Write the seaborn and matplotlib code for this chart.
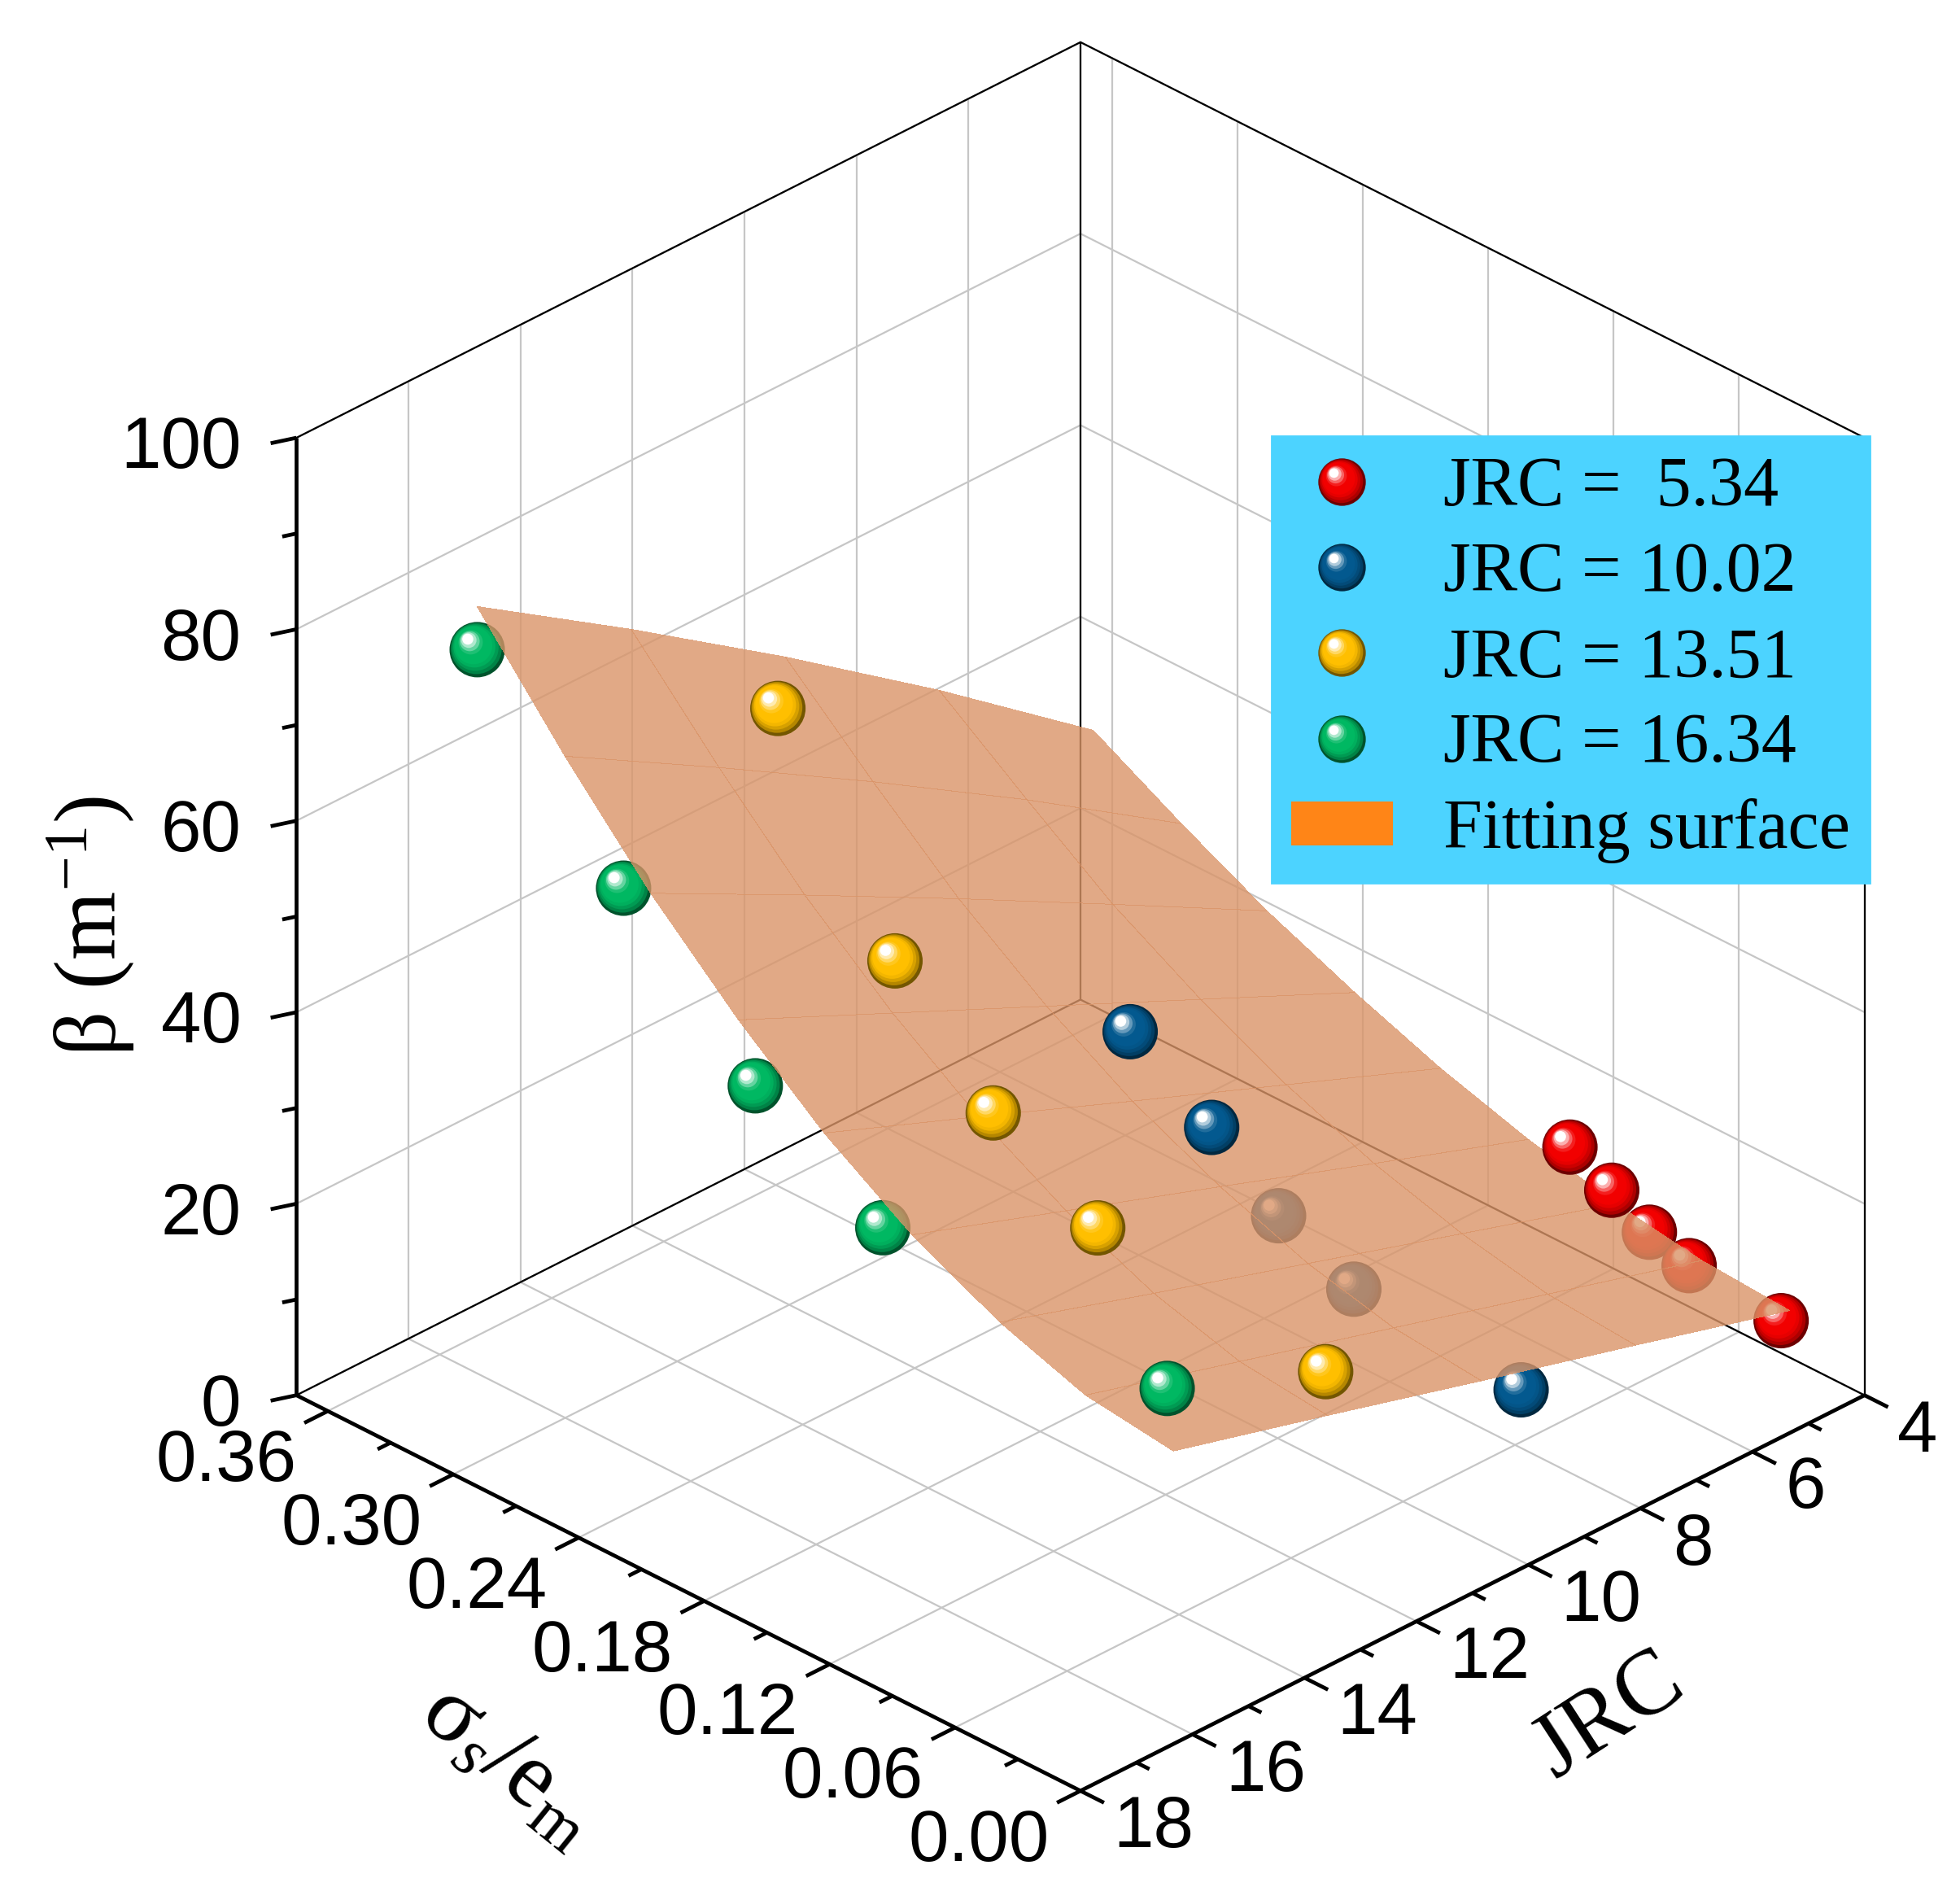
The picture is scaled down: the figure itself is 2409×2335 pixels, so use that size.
import numpy as np
import matplotlib
matplotlib.use("Agg")
import matplotlib.pyplot as plt
import seaborn as sns
from matplotlib.path import Path
from matplotlib.lines import Line2D
from matplotlib.patches import Patch
from matplotlib.colors import to_rgb
from matplotlib.legend_handler import HandlerTuple

# ---- data ----
JRC_LEVELS = [5.34, 10.02, 13.51, 16.34]
SIGMA_RED = [0.105, 0.085, 0.067, 0.048, 0.004]
BETA_RED = [18.3, 16.0, 13.6, 12.2, 11.3]
SIGMA_BLUE = [0.190, 0.151, 0.119, 0.083, 0.003]
BETA_BLUE = [34.8, 29.1, 23.4, 19.7, 18.0]
SIGMA_YELLOW = [0.265, 0.209, 0.162, 0.112, 0.003]
BETA_YELLOW = [70.6, 50.4, 39.7, 33.2, 30.2]
SIGMA_GREEN = [0.333, 0.263, 0.200, 0.139, 0.003]
BETA_GREEN = [77.6, 60.4, 46.7, 38.6, 36.8]

# fitting surface, sampled on a coarse grid
SURF_SIGMA = [0.0, 0.042, 0.083, 0.125, 0.167, 0.208, 0.250, 0.291, 0.333]
SURF_JRC = [5.34, 8.09, 10.84, 13.59, 16.34]
SURF_BETA = [
    [12.8, 13.4, 14.8, 16.9, 19.7, 23.1, 27.0, 31.6, 36.7],
    [17.3, 18.0, 19.8, 22.5, 26.1, 30.5, 35.8, 42.2, 49.0],
    [21.7, 22.6, 24.8, 28.2, 32.5, 37.9, 44.5, 52.2, 60.6],
    [26.2, 27.2, 29.8, 33.8, 39.0, 45.3, 53.0, 61.8, 71.6],
    [30.6, 31.8, 34.9, 39.4, 45.4, 52.7, 61.3, 71.1, 82.1],
]

SIGMA_TICKS = [0.0, 0.06, 0.12, 0.18, 0.24, 0.30, 0.36]
SIGMA_LABELS = ["0.00", "0.06", "0.12", "0.18", "0.24", "0.30", "0.36"]
JRC_TICKS = [4, 6, 8, 10, 12, 14, 16, 18]
BETA_TICKS = [0, 20, 40, 60, 80, 100]
LEGEND_LABELS = ["JRC =  5.34", "JRC = 10.02", "JRC = 13.51", "JRC = 16.34", "Fitting surface"]

SIG_MAX = 0.375
BALL_COLORS = ["#f20000", "#03598f", "#ffbf00", "#00b862"]

sns.set_theme(style="white")
plt.rcParams["font.family"] = ["Liberation Sans", "DejaVu Sans"]
plt.rcParams["text.color"] = "black"
plt.rcParams["mathtext.fontset"] = "custom"
plt.rcParams["mathtext.rm"] = "Liberation Serif"
plt.rcParams["mathtext.it"] = "Liberation Serif:italic"
SERIF = ["Liberation Serif", "DejaVu Serif"]


def ball_layers(base, n=11):
    # stacked circles that fake a lit sphere (light from upper left)
    base = np.array(to_rgb(base))
    dark = base * 0.45
    out = []
    for i in range(n):
        t = i / (n - 1)
        r = 1 - 0.8 * t
        cx, cy = -0.34 * t, 0.38 * t
        if t < 0.35:
            col = dark + (base - dark) * (t / 0.35) ** 0.6
        elif t < 0.65:
            col = base
        else:
            col = base + (1 - base) * ((t - 0.65) / 0.35) ** 1.1
        circ = Path.circle((cx, cy), r)
        verts = np.vstack([[[-1, -1], [1, 1]], circ.vertices])
        codes = np.concatenate([[Path.MOVETO, Path.MOVETO], circ.codes])
        out.append((Path(verts, codes), tuple(np.clip(col, 0, 1))))
    return out


def surface_at(s, j):
    rows = np.array([np.interp(s, SURF_SIGMA, row) for row in SURF_BETA])
    return np.array([np.interp(j, SURF_JRC, rows[:, i]) for i in range(len(s))])


fig = plt.figure(figsize=(12.045, 11.675), dpi=200)
ax = fig.add_subplot(projection="3d", computed_zorder=False)
ax.set_position([0, 0, 1, 1])
ax.set_proj_type("ortho")
ax.set_box_aspect((1, 1, 1))
ax.view_init(elev=30.3, azim=135)
ax.set_xlim(0, SIG_MAX)
ax.set_ylim(4, 18)
ax.set_zlim(0, 100)
ax.set_axis_off()

grid_kw = dict(color="#c6c6c6", lw=0.8, zorder=1)
# back walls and floor grid
for j in JRC_TICKS:
    ax.plot([SIG_MAX, SIG_MAX], [j, j], [0, 100], **grid_kw)
    ax.plot([0, SIG_MAX], [j, j], [0, 0], **grid_kw)
for s in SIGMA_TICKS:
    ax.plot([s, s], [4, 4], [0, 100], **grid_kw)
    ax.plot([s, s], [4, 18], [0, 0], **grid_kw)
for b in BETA_TICKS:
    ax.plot([SIG_MAX, SIG_MAX], [4, 18], [b, b], **grid_kw)
    ax.plot([0, SIG_MAX], [4, 4], [b, b], **grid_kw)

# thin box edges
edge_kw = dict(color="black", lw=0.8, zorder=1.5)
ax.plot([SIG_MAX, SIG_MAX, 0], [18, 4, 4], [100, 100, 100], **edge_kw)
ax.plot([SIG_MAX, SIG_MAX, 0], [18, 4, 4], [0, 0, 0], **edge_kw)
ax.plot([SIG_MAX, SIG_MAX], [4, 4], [0, 100], **edge_kw)
ax.plot([0, 0], [4, 4], [0, 100], **edge_kw)

# fitting surface
SX, SJ = np.meshgrid(SURF_SIGMA, SURF_JRC)
ax.plot_surface(SX, SJ, np.array(SURF_BETA), color="#da9468", alpha=0.8,
                shade=False, linewidth=0, antialiased=False, zorder=3)

# measured points as shaded balls
BALL_S = 600
series = [(SIGMA_RED, BETA_RED), (SIGMA_BLUE, BETA_BLUE),
          (SIGMA_YELLOW, BETA_YELLOW), (SIGMA_GREEN, BETA_GREEN)]
for jrc, (sig, beta), col in zip(JRC_LEVELS, series, BALL_COLORS):
    sig = np.asarray(sig)
    beta = np.asarray(beta)
    under = beta < surface_at(sig, jrc)
    layers = ball_layers(col)
    for k in np.argsort(-sig):
        zo = 2 if under[k] else 4
        for path, c in layers:
            ax.scatter([sig[k]], [jrc], [beta[k]], s=BALL_S, marker=path, color=[c],
                       edgecolors="none", depthshade=False, zorder=zo)

# thick axes with ticks
ax_kw = dict(color="black", lw=1.7, zorder=5, solid_capstyle="butt")
ax.plot([SIG_MAX, SIG_MAX], [18, 18], [0, 100], **ax_kw)
ax.plot([SIG_MAX, 0], [18, 18], [0, 0], **ax_kw)
ax.plot([0, 0], [18, 4], [0, 0], **ax_kw)

for b in np.arange(0, 101, 10):
    k = 1.0 if b % 20 == 0 else 0.55
    ax.plot([SIG_MAX, SIG_MAX + 0.00358 * k], [18, 18 + 0.327 * k], [b, b], **ax_kw)
for s in np.arange(0, 0.3701, 0.03):
    k = 1.0 if round(s / 0.03) % 2 == 0 else 0.55
    ax.plot([s, s], [18, 18 + 0.42 * k], [0, 0], **ax_kw)
for j in range(4, 19):
    k = 1.0 if j % 2 == 0 else 0.55
    ax.plot([0, -0.01125 * k], [j, j], [0, 0], **ax_kw)

# place the projected box where it sits in the reference
fig.canvas.draw()


def disp(x, y, z):
    v = ax.get_proj() @ np.array([x, y, z, 1.0])
    return ax.transData.transform((v[0] / v[3], v[1] / v[3]))


W, H = fig.bbox.width, fig.bbox.height
bb = ax.bbox
corners = {"L": (SIG_MAX, 18, 0), "R": (0, 4, 0), "T": (SIG_MAX, 4, 100), "F": (0, 18, 0)}
target = {"L": (363, H - 1714), "R": (2293, H - 1714), "T": (1328, H - 54), "F": (1328, H - 2200)}
uv = {k: (disp(*p) - [bb.x0, bb.y0]) / [bb.width, bb.height] for k, p in corners.items()}
Sx = (target["R"][0] - target["L"][0]) / (uv["R"][0] - uv["L"][0])
Sy = (target["T"][1] - target["F"][1]) / (uv["T"][1] - uv["F"][1])
S = 0.5 * (Sx + Sy)
x0 = np.mean([target[k][0] - S * uv[k][0] for k in uv])
y0 = np.mean([target[k][1] - S * uv[k][1] for k in uv])
ax.set_position([x0 / W, y0 / H, S / W, S / H])
fig.canvas.draw()

# tick labels, anchored next to the projected tick positions
tick_kw = dict(fontsize=32, color="black")


def tick_label(x, y, z, s, **kw):
    px, py = disp(x, y, z)
    fig.text(px / W, py / H, s, **tick_kw, **kw)


for b in BETA_TICKS:
    tick_label(SIG_MAX + 0.0077, 18.7, b, str(b), ha="right", va="center")
for s, lab in zip(SIGMA_TICKS, SIGMA_LABELS):
    tick_label(s, 19.82, 0, lab, ha="center", va="center")
for j in JRC_TICKS:
    tick_label(-0.0156, j, -2.2, str(j), ha="left", va="center")

# axis titles
fig.text(0.0462, 0.5126, "β (m$^{-1}$)", rotation=90, ha="center", va="center",
         family=SERIF, fontsize=39)
fig.text(0.2596, 0.0708, "σ$_{s}$/e$_{\\mathrm{m}}$", rotation=-39, ha="center", va="center",
         family=SERIF, fontsize=42)
fig.text(0.8212, 0.0966, "JRC", rotation=33, ha="center", va="center",
         family=SERIF, fontsize=41)

# legend
handles = []
for col in BALL_COLORS:
    handles.append(tuple(Line2D([], [], marker=p, color=c, markersize=21, linestyle="none",
                                markeredgewidth=0) for p, c in ball_layers(col)))
handles.append(Patch(facecolor="#ff8517", edgecolor="none"))
fig.legend(handles, LEGEND_LABELS, loc="upper left", bbox_to_anchor=(0.6487, 0.7705),
           handler_map={tuple: HandlerTuple(ndivide=1, pad=0)},
           prop={"family": SERIF, "size": 31}, frameon=True, facecolor="#4cd3ff",
           edgecolor="#4cd3ff", framealpha=1, fancybox=False, borderpad=0.28,
           labelspacing=0.3, handlelength=1.45, handleheight=0.6, handletextpad=0.72,
           borderaxespad=0, labelcolor="black")

fig.savefig("out.png", dpi=200)
